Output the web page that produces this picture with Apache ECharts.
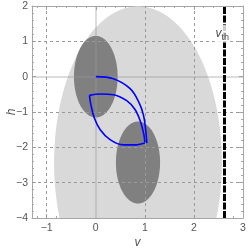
<!DOCTYPE html>
<html><head><meta charset="utf-8">
<script src="https://cdn.jsdelivr.net/npm/echarts@6/dist/echarts.min.js"></script>
<style>html,body{margin:0;padding:0;background:#fff}#c{width:248px;height:250px}</style>
</head><body><div id="c"></div>
<script>
// ---- data ----
const xRange = [-1.3, 3];
const yRange = [-4, 2];
const xTicks = [-1, 0, 1, 2, 3];
const yTicks = [-4, -3, -2, -1, 0, 1, 2];
const xGridLines = [-1, 1, 2];
const yGridLines = [-3, -2, -1, 1];
const axisZero = [0];
// ellipses: [centerV, centerH, radiusV, radiusH]
const lightRegion = [[0.86, -2.43, 1.71, 4.42]];
const darkRegions = [[0, 0, 0.445, 1.155], [0.86, -2.43, 0.45, 1.16]];
const curveA = [[0,0],[0.36,-0.06],[0.70,-0.34],[0.87,-0.70],[0.97,-1.08],[1.02,-1.55],[1.04,-1.88]];
const curveB = [[-0.13,-0.53],[0.09,-0.49],[0.36,-0.51],[0.63,-0.68],[0.80,-0.93],[0.91,-1.27],[0.98,-1.64],[1.0,-1.86]];
const curveC = [[-0.13,-0.53],[-0.10,-0.79],[-0.03,-1.17],[0.09,-1.50],[0.29,-1.78],[0.56,-1.93],[0.83,-1.93],[1.0,-1.88]];
const vth = 2.62;
const vthLabelH = 1.22;

// minor tick positions (every 0.2)
function minors(lo, hi, majors) {
  const out = [];
  for (let i = Math.ceil(lo * 5); i <= Math.floor(hi * 5); i++) {
    const v = +(i / 5).toFixed(2);
    if (!majors.includes(v)) out.push(v);
  }
  return out;
}
const xMinor = minors(xRange[0], xRange[1], xTicks);
const yMinor = minors(yRange[0], yRange[1], yTicks);

const FONT = 'Liberation Sans';
const FRAME = '#a6a6a6';
const fmt = v => String(v).replace('-', '\u2212');

function axis(dim, pos, ticks, len, showLine, labels, name) {
  const a = {
    type: 'value', position: pos,
    min: dim === 'x' ? xRange[0] : yRange[0],
    max: dim === 'x' ? xRange[1] : yRange[1],
    axisLine: { show: showLine, onZero: false, lineStyle: { color: FRAME, width: 1 } },
    axisTick: { show: true, inside: true, length: len, customValues: ticks, lineStyle: { color: FRAME, width: 1 } },
    axisLabel: labels ? { show: true, customValues: labels, formatter: fmt, color: '#555', fontFamily: FONT, fontSize: 10.5, margin: dim === 'x' ? 5 : 4 } : { show: false },
    splitLine: { show: false }
  };
  if (name) {
    a.name = name; a.nameLocation = 'middle';
    a.nameMoveOverlap = false;
    a.nameTextStyle = { fontFamily: FONT, fontStyle: 'italic', fontSize: 12, color: '#555' };
    a.nameGap = dim === 'x' ? 19 : 14;
    if (dim === 'y') a.nameRotate = 90;
  }
  return a;
}

function ellipseRender(params, api) {
  const cx = api.value(0), cy = api.value(1), rx = api.value(2), ry = api.value(3);
  const pts = [];
  const N = 160;
  for (let i = 0; i < N; i++) {
    const t = 2 * Math.PI * i / N;
    pts.push(api.coord([cx + rx * Math.cos(t), cy + ry * Math.sin(t)]));
  }
  return { type: 'polygon', shape: { points: pts }, style: { fill: api.visual('color') } };
}

const chart = echarts.init(document.getElementById('c'), null, { renderer: 'canvas' });
chart.setOption({
  animation: false,
  backgroundColor: '#fff',
  grid: { left: 32, right: 5, top: 6, bottom: 32, containLabel: false, outerBoundsMode: 'none' },
  xAxis: [
    axis('x', 'bottom', xTicks, 4, true, xTicks, 'v'),
    axis('x', 'bottom', xMinor, 2, false, null),
    axis('x', 'top', xTicks, 4, true, null),
    axis('x', 'top', xMinor, 2, false, null)
  ],
  yAxis: [
    axis('y', 'left', yTicks, 4, true, yTicks, 'h'),
    axis('y', 'left', yMinor, 2, false, null),
    axis('y', 'right', yTicks, 4, true, null),
    axis('y', 'right', yMinor, 2, false, null)
  ],
  series: [
    { // dashed gridlines (behind)
      type: 'line', data: [], z: 1, silent: true,
      markLine: {
        symbol: 'none', silent: true, label: { show: false },
        lineStyle: { color: '#9a9a9a', type: [3, 3], width: 1 },
        data: xGridLines.map(v => ({ xAxis: v })).concat(yGridLines.map(v => ({ yAxis: v })))
      }
    },
    { type: 'custom', renderItem: ellipseRender, data: lightRegion, itemStyle: { color: '#d9d9d9' }, clip: true, z: 2, silent: true },
    { type: 'custom', renderItem: ellipseRender, data: darkRegions, itemStyle: { color: '#808080' }, clip: true, z: 3, silent: true },
    { // axes through origin
      type: 'line', data: [], z: 4, silent: true,
      markLine: {
        symbol: 'none', silent: true, label: { show: false },
        lineStyle: { color: 'rgba(150,150,150,0.45)', type: 'solid', width: 1.5 },
        data: axisZero.map(v => ({ xAxis: v })).concat(axisZero.map(v => ({ yAxis: v })))
      }
    },
    { type: 'line', data: curveA, smooth: 0.35, showSymbol: false, lineStyle: { color: '#0000ff', width: 1.6 }, z: 5, clip: true },
    { type: 'line', data: curveB, smooth: 0.35, showSymbol: false, lineStyle: { color: '#0000ff', width: 1.6 }, z: 5, clip: true },
    { type: 'line', data: curveC, smooth: 0.35, showSymbol: false, lineStyle: { color: '#0000ff', width: 1.6 }, z: 5, clip: true },
    { // threshold line
      type: 'line', data: [], z: 6, silent: true,
      markLine: {
        symbol: 'none', silent: true, label: { show: false },
        lineStyle: { color: '#000', type: [7, 1.5], width: 3 },
        data: [{ xAxis: vth }]
      }
    },
    { // threshold label
      type: 'scatter', data: [[vth, vthLabelH]], symbolSize: 0, z: 7, silent: true,
      label: {
        show: true, position: 'inside', offset: [-2, 0],
        backgroundColor: '#fff', padding: [2, 1, 1, 1],
        formatter: '{v|v}{s|th}',
        rich: {
          v: { fontFamily: FONT, fontStyle: 'italic', fontSize: 12, color: '#222' },
          s: { fontFamily: FONT, fontSize: 9, color: '#222', padding: [6, 0, 0, 0] }
        }
      }
    }
  ]
});
</script>
</body></html>
